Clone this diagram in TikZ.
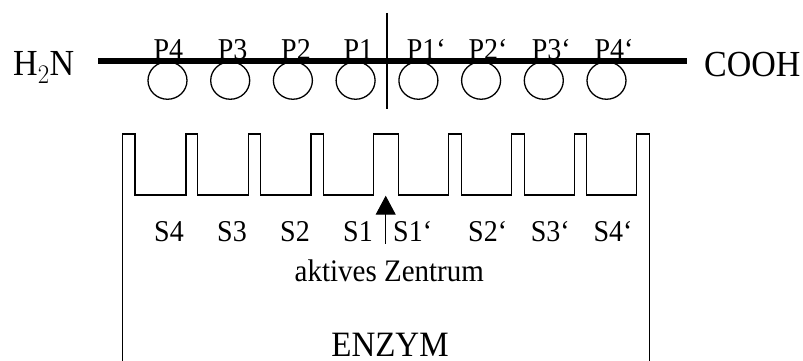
\documentclass[tikz,border=0pt]{standalone}
\usepackage{fontspec}
\usepackage{graphicx}
\setmainfont{Liberation Serif}
\usetikzlibrary{arrows.meta,shapes.geometric}
% the lettering is set slightly taller than wide
\newcommand{\tallText}[1]{\scalebox{1}[1.08]{#1}}
\begin{document}
\begin{tikzpicture}[x=1pt,y=-1pt,
  endlabel/.style={font=\fontsize{34}{40}\selectfont, inner sep=0pt, anchor=base west},
  plabel/.style={font=\fontsize{28}{32}\selectfont, inner sep=0pt, anchor=base west},
  slabel/.style={font=\fontsize{28}{32}\selectfont, inner sep=0pt, anchor=base west},
  residue/.style={ellipse, draw, line width=1.3pt, minimum width=39pt, minimum height=37.5pt, inner sep=0pt},
  chain/.style={line width=6pt},
  cleavage/.style={line width=2pt},
  surface/.style={line width=1.4pt, line join=miter},
  pointer/.style={line width=1pt, -{Triangle[width=20pt,length=19pt]}}]
\useasboundingbox (0,0) rectangle (803,361);

% peptide chain with its ends
\node[endlabel] (nterm) at (13,75.7) {\tallText{H$_2$N}};
\node[endlabel] (cterm) at (704,76.5) {\tallText{COOH}};
\coordinate (chainL) at (98,61);
\coordinate (chainR) at (687,61);
\draw[chain] (chainL) -- (chainR);

% residues P4 ... P4'
\foreach \i/\x in {1/167.5,2/230.2,3/292.9,4/355.6,5/418.4,6/481.1,7/543.8,8/606.5}
  \node[residue] (res\i) at (\x,80.5) {};

\node[plabel] (p4)  at (153.3,59.5) {\tallText{P4}};
\node[plabel] (p3)  at (217.7,59.5) {\tallText{P3}};
\node[plabel] (p2)  at (281,59.5) {\tallText{P2}};
\node[plabel] (p1)  at (343.3,59.5) {\tallText{P1}};
\node[plabel] (p1s) at (406.7,59.5) {\tallText{P1‘}};
\node[plabel] (p2s) at (468.3,59.5) {\tallText{P2‘}};
\node[plabel] (p3s) at (531.7,59.5) {\tallText{P3‘}};
\node[plabel] (p4s) at (594.3,59.5) {\tallText{P4‘}};

% scissile bond
\coordinate (cutTop) at (387,13);
\coordinate (cutBot) at (387,109);
\draw[cleavage] (cutTop) -- (cutBot);

% enzyme surface with binding pockets
\draw[surface] (122.7,361) -- (122.7,134) -- (135,134) -- (135,195)
  -- (186,195) -- (186,134) -- (197.7,134) -- (197.7,195)
  -- (248.3,195) -- (248.3,134) -- (260.7,134) -- (260.7,195)
  -- (311,195) -- (311,134) -- (323.3,134) -- (323.3,195)
  -- (373.3,195) -- (373.3,134) -- (398.3,134) -- (398.3,195)
  -- (448.3,195) -- (448.3,134) -- (461.7,134) -- (461.7,195)
  -- (511.7,195) -- (511.7,134) -- (524.3,134) -- (524.3,195)
  -- (574.3,195) -- (574.3,134) -- (586.7,134) -- (586.7,195)
  -- (636.7,195) -- (636.7,134) -- (649.3,134) -- (649.3,361);

% subsite labels
\node[slabel] (s4)  at (154,241.3) {\tallText{S4}};
\node[slabel] (s3)  at (217,241.3) {\tallText{S3}};
\node[slabel] (s2)  at (280,241.3) {\tallText{S2}};
\node[slabel] (s1)  at (343,241.3) {\tallText{S1}};
\node[slabel] (s1s) at (393,241.3) {\tallText{S1‘}};
\node[slabel] (s2s) at (468,241.3) {\tallText{S2‘}};
\node[slabel] (s3s) at (530.7,241.3) {\tallText{S3‘}};
\node[slabel] (s4s) at (593.3,241.3) {\tallText{S4‘}};

% active site pointer
\coordinate (arrowTail) at (385.7,243.5);
\coordinate (arrowTip) at (385.7,195.7);
\draw[pointer] (arrowTail) -- (arrowTip);

\node[font=\fontsize{29}{34}\selectfont, inner sep=0pt, anchor=base] (active) at (389.3,281.5) {\tallText{aktives Zentrum}};
\node[font=\fontsize{33}{38}\selectfont, inner sep=0pt, text depth=0pt, anchor=base] (enzyme) at (390,356.5) {\tallText{ENZYM}};
\end{tikzpicture}
\end{document}
